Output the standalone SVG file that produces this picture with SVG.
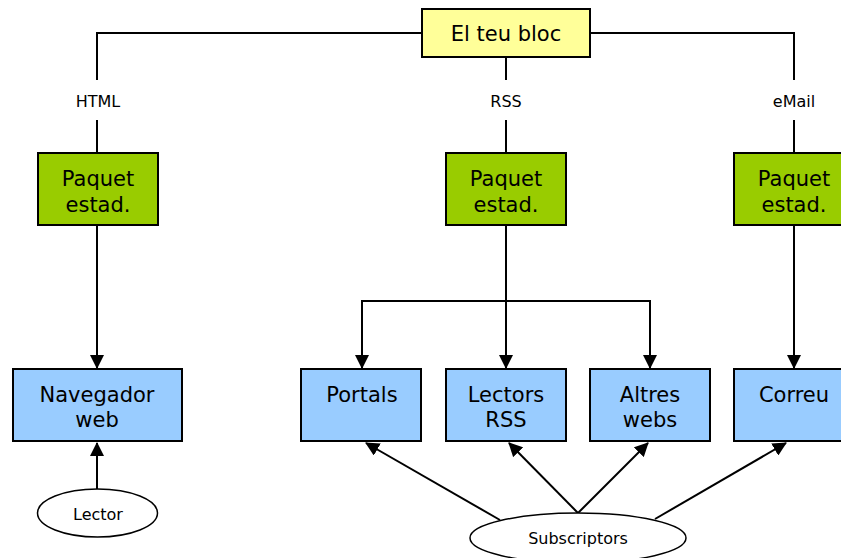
<svg xmlns="http://www.w3.org/2000/svg" width="841" height="558" viewBox="0 0 841 558">
<style>
.box{stroke:#000;stroke-width:2}
.y{fill:#ffff99}.g{fill:#99cc00}.b{fill:#99ccff}
.el{fill:#fff;stroke:#000;stroke-width:1.5}
.t{font-family:"DejaVu Sans",Verdana,sans-serif;font-size:21px;text-anchor:middle;fill:#000}
.s{font-family:"DejaVu Sans",Verdana,sans-serif;font-size:16px;text-anchor:middle;fill:#000}
.c{fill:none;stroke:#000;stroke-width:2}
</style>
<defs>
<marker id="ah" markerUnits="userSpaceOnUse" markerWidth="14" markerHeight="14" refX="13" refY="7" orient="auto">
<path d="M0,0 L14,7 L0,14 Z" fill="#000"/>
</marker>
</defs>
<rect width="841" height="558" fill="#fff"/>
<g id="connectors">
<path class="c" d="M422,33 H97 V80"/>
<path class="c" d="M590,33 H794 V80"/>
<path class="c" d="M506,57 V80"/>
<path class="c" d="M97,120 V153"/>
<path class="c" d="M506,120 V153"/>
<path class="c" d="M794,120 V153"/>
<path class="c" d="M97,225 V368" marker-end="url(#ah)"/>
<path class="c" d="M506,225 V368" marker-end="url(#ah)"/>
<path class="c" d="M506,301 H362 V368" marker-end="url(#ah)"/>
<path class="c" d="M506,301 H650 V368" marker-end="url(#ah)"/>
<path class="c" d="M794,225 V368" marker-end="url(#ah)"/>
<path class="c" d="M97,489 V443" marker-end="url(#ah)"/>
<path class="c" d="M500,520 L366,443" marker-end="url(#ah)"/>
<path class="c" d="M578,513 L509,443" marker-end="url(#ah)"/>
<path class="c" d="M578,513 L648,443" marker-end="url(#ah)"/>
<path class="c" d="M655,519 L786,443" marker-end="url(#ah)"/>
</g>
<g id="labels">
<text class="s" x="98" y="107">HTML</text>
<text class="s" x="506" y="107">RSS</text>
<text class="s" x="794" y="107">eMail</text>
</g>
<g id="bloc"><rect class="box y" x="422" y="9" width="168" height="48"/><text class="t" x="506" y="41">El teu bloc</text></g>
<g id="paquet1"><rect class="box g" x="38" y="153" width="120" height="72"/><text class="t" x="98" y="186">Paquet</text><text class="t" x="98" y="212">estad.</text></g>
<g id="paquet2"><rect class="box g" x="446" y="153" width="120" height="72"/><text class="t" x="506" y="186">Paquet</text><text class="t" x="506" y="212">estad.</text></g>
<g id="paquet3"><rect class="box g" x="734" y="153" width="120" height="72"/><text class="t" x="794" y="186">Paquet</text><text class="t" x="794" y="212">estad.</text></g>
<g id="navegador"><rect class="box b" x="13" y="369" width="169" height="72"/><text class="t" x="97" y="402">Navegador</text><text class="t" x="97" y="427">web</text></g>
<g id="portals"><rect class="box b" x="301" y="369" width="120" height="72"/><text class="t" x="362" y="402">Portals</text></g>
<g id="lectors"><rect class="box b" x="446" y="369" width="120" height="72"/><text class="t" x="506" y="402">Lectors</text><text class="t" x="506" y="427">RSS</text></g>
<g id="altres"><rect class="box b" x="590" y="369" width="120" height="72"/><text class="t" x="650" y="402">Altres</text><text class="t" x="650" y="427">webs</text></g>
<g id="correu"><rect class="box b" x="734" y="369" width="120" height="72"/><text class="t" x="794" y="402">Correu</text></g>
<g id="lector"><ellipse class="el" cx="97.5" cy="513" rx="60" ry="24"/><text class="s" x="98" y="520">Lector</text></g>
<g id="subscriptors"><ellipse class="el" cx="578" cy="538" rx="108" ry="25"/><text class="s" x="578" y="544">Subscriptors</text></g>
</svg>
